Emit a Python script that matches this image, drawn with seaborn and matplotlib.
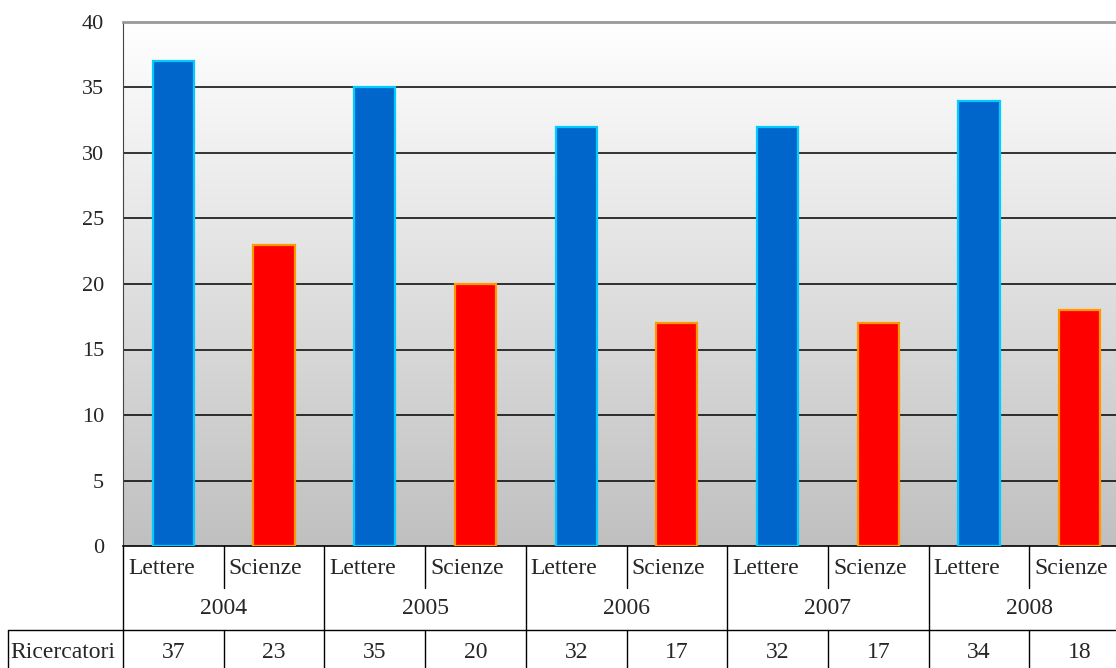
import numpy as np
import pandas as pd
import seaborn as sns
import matplotlib.pyplot as plt
import matplotlib.transforms as mtransforms
from matplotlib.colors import LinearSegmentedColormap

anni = ["2004", "2005", "2006", "2007", "2008"]
materie = ["Lettere", "Scienze"]
lettere = [37, 35, 32, 32, 34]
scienze = [23, 20, 17, 17, 18]
y_ticks = [0, 5, 10, 15, 20, 25, 30, 35, 40]

righe = []
for a, l, s in zip(anni, lettere, scienze):
    righe.append({"cat": a + " Lettere", "anno": a, "materia": "Lettere", "val": l})
    righe.append({"cat": a + " Scienze", "anno": a, "materia": "Scienze", "val": s})
df = pd.DataFrame(righe)

sns.set_style("white")
plt.rcParams["font.family"] = ["Liberation Serif", "DejaVu Serif"]
FS = 17

W, H = 1116, 668
fig = plt.figure(figsize=(W / 100, H / 100), dpi=100)
# l'area del grafico continua oltre il bordo destro dell'immagine
ax_l, ax_r, ax_t, ax_b = 123, 1130, 22, 546
ax = fig.add_axes([ax_l / W, 1 - ax_b / H, (ax_r - ax_l) / W, (ax_b - ax_t) / H])

# sfondo sfumato
grad = np.linspace(0, 1, 256).reshape(-1, 1)
ax.imshow(grad, cmap=LinearSegmentedColormap.from_list("g", ["#FFFFFF", "#C0C0C0"]),
          extent=[0, 1, 0, 1], transform=ax.transAxes,
          aspect="auto", zorder=0, origin="upper")

sns.barplot(data=df, x="cat", y="val", hue="materia",
            palette={"Lettere": "#0066CC", "Scienze": "#FF0000"},
            width=0.41, saturation=1, ax=ax, legend=False, zorder=3)

bordi = {"Lettere": "#00CCFF", "Scienze": "#FF9900"}
for p in ax.patches:
    fc = p.get_facecolor()
    p.set_edgecolor(bordi["Lettere"] if fc[2] > 0.5 else bordi["Scienze"])
    p.set_linewidth(1.6)

n = len(df)
ax.set_xlim(-0.5, n - 0.5)
ax.set_ylim(0, 40)
ax.set_yticks(y_ticks)
ax.set_yticklabels([str(t) for t in y_ticks], fontsize=16)
ax.tick_params(axis="y", direction="out", length=4.5, width=1, color="#444444", pad=9)
ax.set_xticks([])
ax.set_xlabel("")
ax.set_ylabel("")
for t in y_ticks[1:-1]:
    ax.axhline(t, color="black", lw=1.1, zorder=2)

ax.spines["right"].set_visible(False)
ax.spines["top"].set_color("#999999")
ax.spines["top"].set_linewidth(2)
ax.spines["left"].set_color("#444444")
ax.spines["bottom"].set_color("black")
ax.spines["bottom"].set_linewidth(1.2)

# tabella sotto il grafico
tr = mtransforms.blended_transform_factory(ax.transData, ax.transAxes)
ah = ax_b - ax_t


def yy(px):
    return (ax_b - px) / ah


kw = dict(transform=tr, clip_on=False, color="black", lw=1)
for i in range(0, n, 2):
    ax.plot([i + 0.5, i + 0.5], [yy(546), yy(588)], **kw)
    ax.plot([i + 0.5, i + 0.5], [yy(630), yy(668)], **kw)
for i in range(-1, n, 2):
    ax.plot([i + 0.5, i + 0.5], [yy(546), yy(668)], **kw)
ax.plot([0, 1], [yy(630), yy(630)], transform=ax.transAxes, clip_on=False, color="black", lw=1)
fig.add_artist(plt.Line2D([8 / W, ax_l / W], [1 - 630 / H, 1 - 630 / H], color="black", lw=1))
fig.add_artist(plt.Line2D([8 / W, 8 / W], [1 - 630 / H, 0], color="black", lw=1))

for i, r in df.iterrows():
    ax.text(i - 0.45, yy(568), r["materia"], transform=tr, ha="left", va="center", fontsize=FS)
    ax.text(i, yy(652), str(r["val"]), transform=tr, ha="center", va="center", fontsize=FS)
for k, a in enumerate(anni):
    ax.text(2 * k + 0.5, yy(609), a, transform=tr, ha="center", va="center", fontsize=FS)
fig.text(10 / W, 1 - 652 / H, "Ricercatori", ha="left", va="center", fontsize=FS)

fig.savefig("out.png", dpi=100)
